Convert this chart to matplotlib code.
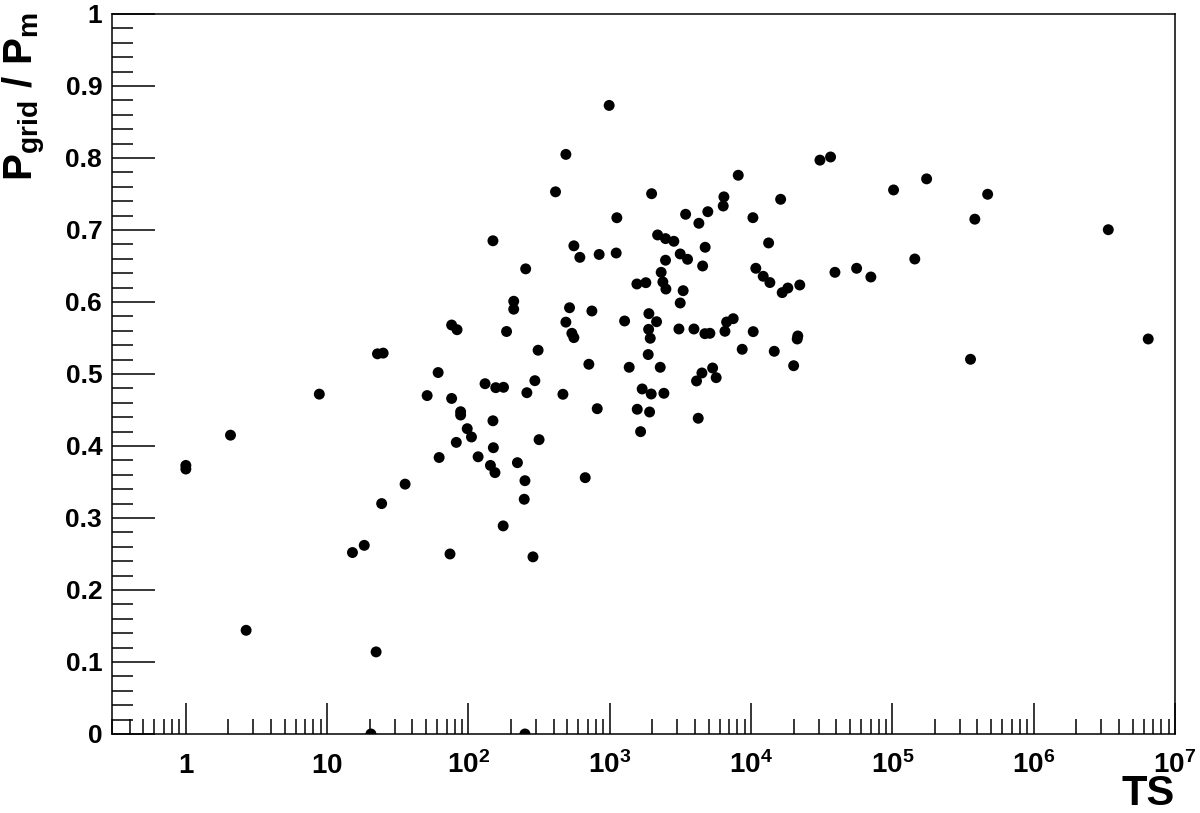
import numpy as np
import matplotlib
matplotlib.use("Agg")
import matplotlib.pyplot as plt
from matplotlib.ticker import FixedLocator, LogLocator, NullFormatter, FuncFormatter, MultipleLocator

# values (TS, P_grid / P_m)
ts = [1.0, 1.0, 2.07, 2.67, 8.8, 15.1, 18.3, 20.4, 22.2, 22.7, 24.9, 24.3, 35.6,
      51, 61, 62, 74, 76, 76, 83, 82, 88, 88, 98, 105, 117, 131, 143, 149, 149,
      150, 154, 156, 176, 177, 186, 209, 209, 222, 248, 251, 251, 254, 259, 286,
      295, 311, 316, 413, 466, 489, 489, 519, 539, 557, 557, 614, 670, 711, 747,
      815, 841, 990, 1110, 1122, 1273, 1372, 1555, 1564, 1652, 1695, 1800, 1870,
      1883, 1891, 1913, 1933, 1964, 1977, 2143, 2180, 2275, 2310, 2375, 2415,
      2480, 2480, 2495, 2840, 3085, 3150, 3150, 3305, 3440, 3550, 3940, 4110,
      4225, 4270, 4487, 4540, 4710, 4730, 4940, 5110, 5340, 5660, 6350, 6420,
      6530, 6710, 7470, 8110, 8650, 10300, 10350, 10800, 12180, 13300, 13580,
      14580, 16180, 16600, 18200, 20000, 21200, 21400, 22100, 30700, 36500,
      39200, 55800, 70400, 101900, 144000, 174600, 357000, 383000, 472000,
      3.37e6, 6.46e6]
ratio = [0.373, 0.368, 0.415, 0.144, 0.472, 0.252, 0.262, 0.0, 0.114, 0.528, 0.529,
         0.320, 0.347, 0.470, 0.502, 0.384, 0.250, 0.466, 0.568, 0.5615, 0.405,
         0.4476, 0.443, 0.424, 0.4125, 0.385, 0.4865, 0.373, 0.685, 0.435, 0.3976,
         0.363, 0.481, 0.289, 0.4815, 0.559, 0.601, 0.590, 0.3768, 0.326, 0.3518,
         0.0, 0.646, 0.474, 0.246, 0.4907, 0.533, 0.4088, 0.753, 0.4718, 0.805,
         0.572, 0.592, 0.5565, 0.678, 0.5505, 0.662, 0.356, 0.5135, 0.5875, 0.4518,
         0.666, 0.873, 0.668, 0.717, 0.5736, 0.5093, 0.625, 0.451, 0.4199, 0.4792,
         0.6268, 0.527, 0.562, 0.5838, 0.4472, 0.5496, 0.4722, 0.7504, 0.5726,
         0.6931, 0.5093, 0.6412, 0.6278, 0.4732, 0.688, 0.658, 0.618, 0.6843,
         0.5625, 0.6667, 0.5986, 0.6157, 0.7218, 0.6593, 0.5625, 0.4903, 0.4385,
         0.7093, 0.5014, 0.650, 0.556, 0.676, 0.7254, 0.5565, 0.5083, 0.4949,
         0.7333, 0.746, 0.5593, 0.5722, 0.5768, 0.776, 0.5343, 0.7171, 0.5588,
         0.6468, 0.6357, 0.682, 0.627, 0.5315, 0.7426, 0.613, 0.6194, 0.5115,
         0.5486, 0.5528, 0.6236, 0.797, 0.8014, 0.6412, 0.6468, 0.6347, 0.7556,
         0.6597, 0.771, 0.5204, 0.715, 0.7496, 0.7004, 0.5486]

x_range = [0.3, 1e7]
y_range = [0, 1]

plt.rcParams['font.family'] = ['Liberation Sans', 'DejaVu Sans']
plt.rcParams['font.weight'] = 'bold'
plt.rcParams['mathtext.fontset'] = 'custom'
plt.rcParams['mathtext.rm'] = 'Liberation Sans:bold'
plt.rcParams['mathtext.bf'] = 'Liberation Sans:bold'
plt.rcParams['mathtext.it'] = 'Liberation Sans:bold'

fig = plt.figure(figsize=(12, 8.13), dpi=100)
ax = fig.add_axes([0.0933, 0.0972, 0.9792 - 0.0933, 0.9828 - 0.0972])

ax.scatter(ts, ratio, s=62, color='k', edgecolors='none', zorder=3)

ax.set_xscale('log')
ax.set_xlim(x_range)
ax.set_ylim(y_range)

ax.xaxis.set_major_locator(FixedLocator([10.0**k for k in range(0, 8)]))
ax.xaxis.set_minor_locator(LogLocator(base=10, subs=np.arange(2, 10), numticks=30))
ax.xaxis.set_minor_formatter(NullFormatter())

def xfmt(v, pos):
    k = int(round(np.log10(v)))
    if k == 0:
        return r'$\mathrm{1}$'
    if k == 1:
        return r'$\mathrm{10}$'
    return r'$\mathrm{10^{%d}}$' % k

ax.xaxis.set_major_formatter(FuncFormatter(xfmt))
ax.yaxis.set_major_locator(MultipleLocator(0.1))
ax.yaxis.set_minor_locator(MultipleLocator(0.02))
ax.yaxis.set_major_formatter(FuncFormatter(lambda v, p: '%g' % round(v, 1)))

ax.tick_params(axis='x', which='major', direction='in', length=22, width=1.1,
               labelsize=20, pad=28, top=False)
ax.tick_params(axis='x', which='minor', direction='in', length=11, width=1.1, top=False)
ax.tick_params(axis='y', which='major', direction='in', length=31, width=1.1,
               labelsize=19, pad=7, right=False)
ax.tick_params(axis='y', which='minor', direction='in', length=15, width=1.1, right=False)

for t in ax.xaxis.get_major_ticks():
    t.label1.set_verticalalignment('baseline')

for sp in ax.spines.values():
    sp.set_linewidth(1.1)

ax.set_xlabel('TS', fontsize=30, fontweight='bold')
ax.xaxis.set_label_coords(1.0, -0.0835)
ax.xaxis.label.set_horizontalalignment('right')
ax.xaxis.label.set_verticalalignment('center')

ax.set_ylabel(r'$\mathrm{P_{grid}\ /\ P_{m}}$', fontsize=29)
ax.yaxis.set_label_coords(-0.0825, 1.003)
ax.yaxis.label.set_horizontalalignment('right')
ax.yaxis.label.set_verticalalignment('center')

fig.savefig('out.png', dpi=100)
